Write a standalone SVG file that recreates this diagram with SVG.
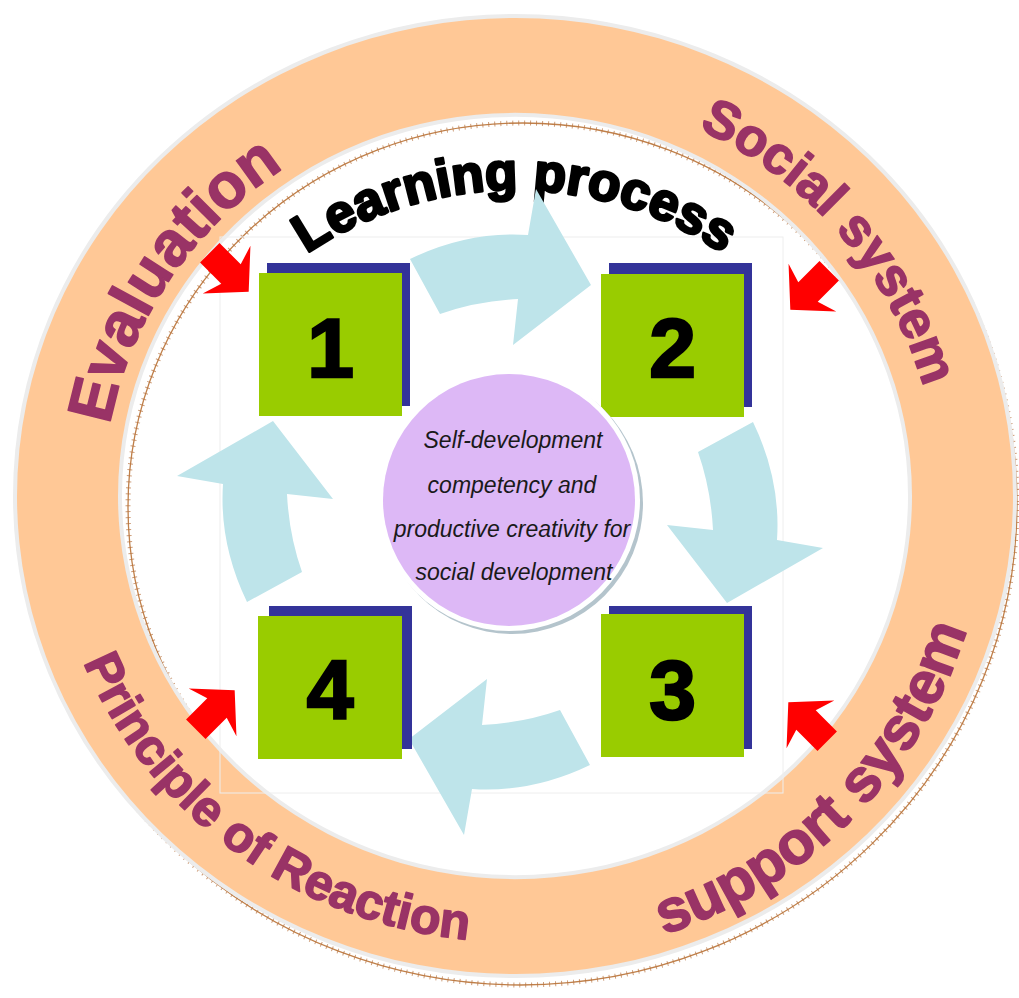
<svg xmlns="http://www.w3.org/2000/svg" xmlns:xlink="http://www.w3.org/1999/xlink" width="1019" height="998" viewBox="0 0 1019 998">
<style>
.ring{fill:#FFC896;fill-rule:evenodd}
.halo{fill:none;stroke:#ececec;stroke-width:8}
.shadow{fill:none;stroke:#C0804A;stroke-width:1.3}
.shadowtick{fill:none;stroke:#B87440;stroke-width:5;stroke-dasharray:1 5;opacity:.7}
.rt{font-family:"Liberation Sans",Arial,sans-serif;font-weight:bold;fill:#993366;stroke:#993366;stroke-width:1.6;stroke-linejoin:round}
.lp{font-family:"Liberation Sans",Arial,sans-serif;font-weight:bold;fill:#000;stroke:#000;stroke-width:2.8;stroke-linejoin:round}
.green{fill:#99CC00}
.blue{fill:#333399}
.num{font-family:"Liberation Sans",Arial,sans-serif;font-weight:bold;font-size:84px;fill:#000;stroke:#000;stroke-width:2.5;text-anchor:middle}
.cyan{fill:#BEE4EA}
.red{fill:#FF0000}
.ct{font-family:"Liberation Sans",Arial,sans-serif;font-style:italic;font-size:23px;fill:#1a1a1a;text-anchor:middle}
</style>
<defs>
<path id="bigArrow" d="M753,422 Q781,480 777,540 L823,548 L727,603 L667,525 L713,530 Q711,489 698,452 Z"/>
<path id="redArrow" d="M-24,-11 L0,-11 L-5,-27 L20,0 L-5,27 L0,11 L-24,11 Z"/>
<path id="pEval" d="M149.5,678.8 A412,396 0 0 1 533,100.4"/>
<path id="pSocial" d="M447,94 A424,408 0 0 1 912,640"/>
<path id="pPrinciple" d="M54,437.8 A465,446 0 0 0 693,908"/>
<path id="pSupport" d="M402,945 A472,462 0 0 0 968,368"/>
<path id="pLearning" d="M165.4,434.8 A372,372 0 0 1 864.6,434.8"/>
</defs>
<rect width="1019" height="998" fill="#ffffff"/>
<g id="ring-shadow">
<ellipse class="shadow" cx="521" cy="504" rx="496" ry="481"/>
<ellipse class="shadowtick" cx="521" cy="504" rx="496" ry="481"/>
<ellipse class="shadow" cx="523" cy="507" rx="395" ry="384"/>
<ellipse class="shadowtick" cx="523" cy="507" rx="395" ry="384"/>
</g>
<g id="ring">
<path class="halo" d="M17,496 A498,478 0 1 0 1013,496 A498,478 0 1 0 17,496 Z M118,496 A397,383 0 1 0 912,496 A397,383 0 1 0 118,496 Z"/>
<path class="ring" d="M17,496 A498,478 0 1 0 1013,496 A498,478 0 1 0 17,496 Z M118,496 A397,383 0 1 0 912,496 A397,383 0 1 0 118,496 Z"/>
<text class="rt" font-size="63"><textPath href="#pEval" xlink:href="#pEval" startOffset="50%" text-anchor="middle">Evaluation</textPath></text>
<text class="rt" font-size="53"><textPath href="#pSocial" xlink:href="#pSocial" startOffset="50%" text-anchor="middle">Social system</textPath></text>
<text class="rt" font-size="50"><textPath href="#pPrinciple" xlink:href="#pPrinciple" startOffset="50%" text-anchor="middle">Principle of Reaction</textPath></text>
<text class="rt" font-size="60"><textPath href="#pSupport" xlink:href="#pSupport" startOffset="50%" text-anchor="middle">support system</textPath></text>
</g>
<rect x="220" y="237" width="563" height="556" fill="none" stroke="#eeeeee" stroke-width="1"/>
<g id="title">
<text class="lp" font-size="53"><textPath href="#pLearning" xlink:href="#pLearning" startOffset="50%" text-anchor="middle">Learning process</textPath></text>
</g>
<g id="connectors">
<use href="#bigArrow" xlink:href="#bigArrow" class="cyan" transform="rotate(-90 500 512)"/>
<use href="#bigArrow" xlink:href="#bigArrow" class="cyan"/>
<use href="#bigArrow" xlink:href="#bigArrow" class="cyan" transform="rotate(90 500 512)"/>
<use href="#bigArrow" xlink:href="#bigArrow" class="cyan" transform="rotate(180 500 512)"/>
<use href="#redArrow" xlink:href="#redArrow" class="red" transform="translate(231 274) rotate(45) scale(1.25)"/>
<use href="#redArrow" xlink:href="#redArrow" class="red" transform="translate(808 292) rotate(135) scale(1.25)"/>
<use href="#redArrow" xlink:href="#redArrow" class="red" transform="translate(806 720) rotate(-135) scale(1.25)"/>
<use href="#redArrow" xlink:href="#redArrow" class="red" transform="translate(217 708) rotate(-45) scale(1.25)"/>
</g>
<g id="node-1">
<rect class="blue" x="267" y="263" width="143" height="143"/>
<rect class="green" x="259" y="273" width="143" height="143"/>
<text class="num" x="330.5" y="377">1</text>
</g>
<g id="node-2">
<rect class="blue" x="609" y="263" width="143" height="144"/>
<rect class="green" x="601" y="274" width="143" height="143"/>
<text class="num" x="672.5" y="377">2</text>
</g>
<g id="node-3">
<rect class="blue" x="609" y="606" width="143" height="143"/>
<rect class="green" x="601" y="614" width="143" height="143"/>
<text class="num" x="672.5" y="719">3</text>
</g>
<g id="node-4">
<rect class="blue" x="269" y="606" width="143" height="143"/>
<rect class="green" x="258" y="616" width="144" height="143"/>
<text class="num" x="330" y="719">4</text>
</g>
<g id="center">
<circle cx="512" cy="503" r="131" fill="#b4c4cc"/>
<circle cx="509" cy="500" r="131" fill="#ffffff"/>
<circle cx="509" cy="500" r="126" fill="#DDB8F6"/>
<text class="ct" x="513" y="448">Self-development</text>
<text class="ct" x="512" y="493">competency and</text>
<text class="ct" x="512" y="537">productive creativity for</text>
<text class="ct" x="514" y="580">social development</text>
</g>
</svg>
